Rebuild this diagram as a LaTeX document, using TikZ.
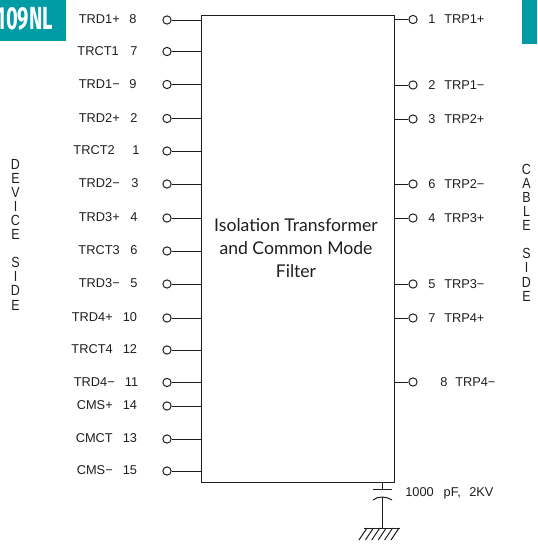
\documentclass[tikz,border=0pt]{standalone}
\usepackage{fontspec}
\setmainfont{Liberation Sans}
\newfontfamily\boxfont{Lato}
\newfontfamily\tabfont{Fira Sans}[UprightFont=* Bold]
\usepackage{xcolor}
\usetikzlibrary{positioning}
\definecolor{dfteal}{RGB}{0,156,166}
\definecolor{dfline}{RGB}{30,30,30}
\tikzstyle{pin} = [circle,draw=dfline,line width=0.75pt,inner sep=0pt,minimum size=6.2pt]
\tikzstyle{wire} = [line width=0.75pt,color=dfline]
\tikzstyle{pinlabel} = [inner sep=0pt,font=\fontsize{9.6pt}{11pt}\selectfont,text=dfline]
\tikzstyle{sidelabel} = [inner sep=0pt,align=center,xscale=0.85,text=dfline,font=\fontsize{11pt}{10.55pt}\selectfont]

\begin{document}
\begin{tikzpicture}[x=0.75pt,y=-0.75pt]
\useasboundingbox (0,0) rectangle (537,544);
% Corner tabs
\begin{scope}
\clip (0,0) rectangle (66,41);
\fill[dfteal] (0,0) rectangle (66,41);
\node[anchor=east,inner sep=0pt,text=white,xscale=0.63,font=\fontsize{24pt}{24pt}\tabfont] (tabname) at (53,18.5) {109NL};
\end{scope}
\fill[dfteal] (522,0) rectangle (537,44);
% Main block
\node[draw=dfline,line width=0.75pt,minimum width=144.75pt,minimum height=350.25pt,inner sep=0pt] (block) at (297.5,248.5) {};
\node[align=center,font=\fontsize{13.2pt}{17.5pt}\boxfont,text=dfline,inner sep=0pt] (blocktext) at (296,248) {Isolation Transformer\\and Common Mode\\Filter};
% Device side pins
\foreach \y/\name/\num/\nx/\cx/\id in {20/TRD1+/8/120/133/a,51.5/TRCT1/7/119/134/b,84.5/TRD1−/9/120/133/c,118.5/TRD2+/2/120/134/d,151/TRCT2/1/115/136/e,184/TRD2−/3/120/135/f,218/TRD3+/4/120/134/g,251/TRCT3/6/120/134/h,284/TRD3−/5/120/134/i,318/TRD4+/10/113/130/j,350/TRCT4/12/113/130/k,382.5/TRD4−/11/115/131.5/l,406/CMS+/14/113/130/m,439/CMCT/13/113/130/n,471/CMS−/15/113/130/o}{
  \node[pin] (dev\id) at (167,\y) {};
  \draw[wire] (dev\id) -- (dev\id -| block.west);
  \node[pinlabel,anchor=base east] (devname\id) at (\nx,\y+3.5) {\name};
  \node[pinlabel,anchor=base] (devnum\id) at (\cx,\y+3.5) {\num};
}
% Cable side pins
\foreach \y/\name/\num/\cx/\nx/\id in {19.5/TRP1+/1/432/444/a,85/TRP1−/2/432/444/b,119/TRP2+/3/432/444/c,184/TRP2−/6/432/444/d,218/TRP3+/4/432/444/e,284/TRP3−/5/432/444/f,318/TRP4+/7/432/444/g,382/TRP4−/8/444/455/h}{
  \node[pin] (cab\id) at (413,\y) {};
  \draw[wire] (cab\id) -- (cab\id -| block.east);
  \node[pinlabel,anchor=base] (cabnum\id) at (\cx,\y+4) {\num};
  \node[pinlabel,anchor=base west] (cabname\id) at (\nx,\y+4) {\name};
}
% Side titles
\node[sidelabel,anchor=north] (devside) at (15.5,159) {D\\E\\V\\I\\C\\E\\[10.55pt]S\\I\\D\\E};
\node[sidelabel,anchor=north] (cabside) at (526.5,164) {C\\A\\B\\L\\E\\[10.55pt]S\\I\\D\\E};
% Capacitor to ground
\coordinate (captop) at (block.south -| 382,0);
\coordinate (plateA) at (382,489.5);
\coordinate (plateB) at (382,497);
\coordinate (gnd) at (382,528);
\draw[wire] (captop) -- (plateA);
\draw[wire] (373,489.5) -- (392,489.5);
\draw[wire] (373,500) .. controls (378,496) and (386,496) .. (392,500);
\draw[wire] (plateB) -- (gnd);
\draw[wire] (364,528) -- (400,528);
\foreach \x in {367,373.4,379.8,386.2,392.6,399}{
  \draw[wire] (\x,528) -- ++(-8,12);
}
\node[pinlabel,anchor=base west] (caplabel) at (405,496.5) {1000\hspace{7.5pt}pF,\hspace{6.4pt}2KV};
\end{tikzpicture}
\end{document}
